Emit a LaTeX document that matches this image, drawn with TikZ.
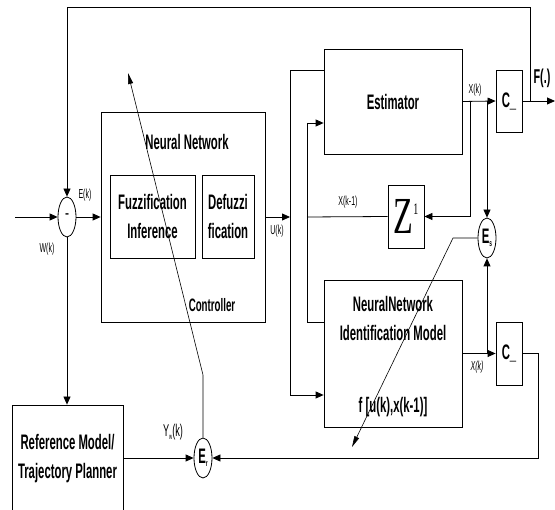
\documentclass[tikz,border=0pt]{standalone}
\usepackage{fontspec}
\setmainfont{Liberation Sans}
\newfontfamily\narrowsf[FakeStretch=0.54]{Liberation Sans}
\newfontfamily\narrowserif[FakeStretch=0.62]{Liberation Serif}
\usetikzlibrary{arrows.meta,shapes.geometric}

\begin{document}
\begin{tikzpicture}[
  x=1pt, y=-1pt,
  line width=0.8pt,
  blk/.style={draw, rectangle, inner sep=0pt},
  sumnode/.style={draw, ellipse, inner sep=0pt, minimum width=18pt, minimum height=40pt,
    font=\narrowsf\bfseries\fontsize{21}{21}\selectfont},
  title/.style={font=\narrowsf\bfseries\fontsize{21}{29}\selectfont, align=center, inner sep=0pt},
  sig/.style={font=\narrowsf\fontsize{13}{13}\selectfont, inner sep=0pt},
  >={Triangle[length=8pt,width=7pt]},
  thinarrow/.style={-{Triangle[length=11pt,width=5pt]}, line width=0.6pt}
]
\useasboundingbox (0,0) rectangle (555,510);

% controller side
\node[sumnode] (sum) at (67,217) {};
\node[font=\bfseries\fontsize{12}{12}\selectfont, inner sep=0pt] (sumsign) at (67,216) {-};
\node[blk, minimum width=164pt, minimum height=210pt] (ctrl) at (183,217) {};
\node[title] (nntitle) at (187,142) {Neural Network};
\node[blk, title, minimum width=85pt, minimum height=83pt] (fuzz) at (152.5,216.5) {Fuzzification\\Inference};
\node[blk, title, minimum width=52pt, minimum height=83pt] (defuzz) at (228,216.5) {Defuzzi\\fication};
\node[title, font=\narrowsf\bfseries\fontsize{18}{18}\selectfont] (ctrllbl) at (212,305) {Controller};
\node[blk, minimum width=111pt, minimum height=110pt] (ref) at (67.5,460) {};
\node[title] (reftxt) at (67.5,459) {Reference Model/\\Trajectory Planner};
\node[sumnode] (er) at (203,458) {E\raisebox{-3pt}{\fontsize{9}{9}\selectfont r}};

% plant side
\node[blk, title, minimum width=138pt, minimum height=105pt] (est) at (393,101.5) {Estimator};
\node[blk, minimum width=138pt, minimum height=147pt] (nnid) at (393,353.5) {};
\node[title] (nnidtxt) at (393,318) {NeuralNetwork\\Identification Model};
\node[title] (nnidf) at (393,407) {f [u(k),x(k-1)]};
\node[blk, minimum width=36pt, minimum height=63pt,
  font=\narrowserif\fontsize{52}{52}\selectfont] (zdelay) at (406,216.5)
  {Z\raisebox{19pt}{\fontsize{16}{16}\selectfont 1}};
\node[blk, title, minimum width=26pt, minimum height=62pt] (cout) at (509,101) {C\_};
\node[blk, title, minimum width=26pt, minimum height=63pt] (cid) at (509,353.5) {C\_};
\node[sumnode] (es) at (487,238) {E\raisebox{-3pt}{\fontsize{9}{9}\selectfont s}};

% signal labels
\node[sig] (eklbl) at (85,195) {E(k)};
\node[sig] (wklbl) at (47,249) {W(k)};
\node[sig] (uklbl) at (277,231) {U(k)};
\node[sig] (xk1lbl) at (348,202) {X(k-1)};
\node[sig] (xklbl) at (475,90) {X(k)};
\node[sig, font=\narrowsf\itshape\fontsize{13}{13}\selectfont] (xkidlbl) at (477,367) {X(k)};
\node[font=\narrowsf\fontsize{17}{17}\selectfont, inner sep=0pt] (ywlbl) at (173,432)
  {Y\raisebox{-3pt}{\fontsize{8}{8}\selectfont w}(k)};
\node[title, font=\narrowsf\bfseries\fontsize{20}{20}\selectfont] (flbl) at (542,78) {F(.)};

% coordinates for the wiring
\coordinate (win) at (15,217);
\coordinate (fo) at (555,101);
\coordinate (fb) at (530,101);
\coordinate (fbtop) at (530,7);
\coordinate (fbleft) at (67,7);
\coordinate (ubus) at (290,217);
\coordinate (utop) at (290,70);
\coordinate (ubot) at (290,395);
\coordinate (xtop) at (307,123);
\coordinate (xmid) at (307,217);
\coordinate (xbot) at (307,322);
\coordinate (zbr) at (470,101);
\coordinate (esbr) at (487,101);
\coordinate (esbr2) at (487,353.5);
\coordinate (crt) at (538,353.5);
\coordinate (crb) at (538,458);
\coordinate (erbend) at (203,375);
\coordinate (ertip) at (128,73);
\coordinate (esbend) at (453,238);
\coordinate (estip) at (352,447);

\draw[->] (win) -- (sum.west);
\draw[->] (sum.east) -- (ctrl.west);
\draw[->] (fb) -- (fbtop) -- (fbleft) -- (sum.north);
\draw[->] (sum.south) -- (sum.south |- ref.north);
\draw[->] (ctrl.east) -- (ubus);
\draw (utop -| est.west) -- (utop) -- (ubot);
\draw[->] (ubot) -- (ubot -| nnid.west);
\draw[->] (xtop) -- (xtop -| est.west);
\draw (xtop) -- (xbot) -- (xbot -| nnid.west);
\draw (zdelay.west) -- (xmid);
\draw[->] (est.east) -- (cout.west);
\draw[->] (cout.east) -- (fo);
\draw[->] (zbr) |- (zdelay.east);
\draw[->] (esbr) -- (es.north);
\draw[->] (nnid.east) -- (cid.west);
\draw[->] (esbr2) -- (es.south);
\draw[->] (cid.east) -- (crt) -- (crb) -- (er.east);
\draw[->] (ref.east |- er.west) -- (er.west);
\draw[thinarrow] (er.north) -- (erbend) -- (ertip);
\draw[thinarrow] (es.west) -- (esbend) -- (estip);

\end{tikzpicture}
\end{document}
